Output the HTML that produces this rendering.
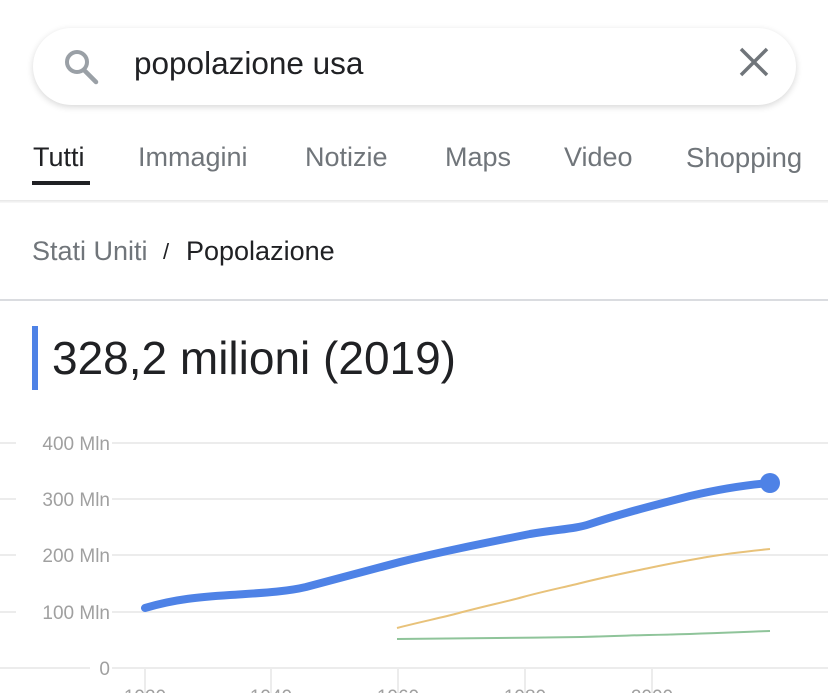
<!DOCTYPE html>
<html><head><meta charset="utf-8"><style>
body{margin:0;width:828px;height:693px;overflow:hidden;background:#fff;font-family:"Liberation Sans",sans-serif;position:relative}
.abs{position:absolute;white-space:nowrap}
</style></head><body>
<div class="abs" style="left:33px;top:28px;width:763px;height:77px;border-radius:39px;box-shadow:0 2px 7px rgba(0,0,0,0.16);background:#fff"></div>
<svg class="abs" style="left:60px;top:46px" width="40" height="40"><circle cx="17" cy="16" r="10" fill="none" stroke="#9aa0a6" stroke-width="4"/><line x1="24" y1="24" x2="36" y2="36" stroke="#9aa0a6" stroke-width="4.5" stroke-linecap="round"/></svg>
<div class="abs" style="left:134px;top:45px;font-size:31.5px;color:#202124">popolazione usa</div>
<svg class="abs" style="left:738px;top:46px" width="32" height="32"><path d="M3 3L29 29M29 3L3 29" stroke="#70757a" stroke-width="3.5"/></svg>
<div class="abs" style="left:33px;top:142px;font-size:27px;color:#202124">Tutti</div>
<div class="abs" style="left:32px;top:181px;width:58px;height:4px;background:#202124"></div>
<div class="abs" style="left:138px;top:142px;font-size:27px;color:#70757a">Immagini</div>
<div class="abs" style="left:305px;top:142px;font-size:27px;color:#70757a">Notizie</div>
<div class="abs" style="left:445px;top:142px;font-size:27px;color:#70757a">Maps</div>
<div class="abs" style="left:564px;top:142px;font-size:27px;color:#70757a">Video</div>
<div class="abs" style="left:686px;top:142px;font-size:27.5px;color:#70757a">Shopping</div>
<div class="abs" style="left:0;top:200px;width:828px;height:3px;background:linear-gradient(#e6e6e6,#fafafa)"></div>
<div class="abs" style="left:32px;top:236px;font-size:27px;color:#70757a">Stati Uniti</div>
<div class="abs" style="left:163px;top:239px;font-size:22px;color:#202124">/</div>
<div class="abs" style="left:186px;top:236px;font-size:27px;color:#202124">Popolazione</div>
<div class="abs" style="left:0;top:299px;width:828px;height:2px;background:#dadce0"></div>
<div class="abs" style="left:32px;top:326px;width:6px;height:64px;background:#4e82e6"></div>
<div class="abs" style="left:52px;top:331px;font-size:46px;color:#202124">328,2 milioni (2019)</div>
<svg class="abs" style="left:0;top:0" width="828" height="693">
<g stroke="#ececec" stroke-width="2">
<line x1="0" y1="443" x2="16" y2="443"/><line x1="112" y1="443" x2="828" y2="443"/>
<line x1="0" y1="499" x2="16" y2="499"/><line x1="112" y1="499" x2="828" y2="499"/>
<line x1="0" y1="555" x2="16" y2="555"/><line x1="112" y1="555" x2="828" y2="555"/>
<line x1="0" y1="612" x2="16" y2="612"/><line x1="112" y1="612" x2="828" y2="612"/>
<line x1="0" y1="668" x2="90" y2="668"/><line x1="112" y1="668" x2="828" y2="668"/>
<line x1="145" y1="668" x2="145" y2="693"/><line x1="271" y1="668" x2="271" y2="693"/><line x1="398" y1="668" x2="398" y2="693"/><line x1="525" y1="668" x2="525" y2="693"/><line x1="652" y1="668" x2="652" y2="693"/>
</g>
<g font-size="19" fill="#a0a0a0" font-family="Liberation Sans,sans-serif" text-anchor="end">
<text x="110" y="450">400 Mln</text><text x="110" y="506">300 Mln</text><text x="110" y="562">200 Mln</text><text x="110" y="619">100 Mln</text><text x="110" y="675">0</text>
</g>
<g font-size="19" fill="#a0a0a0" font-family="Liberation Sans,sans-serif" text-anchor="middle">
<text x="145" y="703">1920</text><text x="271" y="703">1940</text><text x="398" y="703">1960</text><text x="525" y="703">1980</text><text x="652" y="703">2000</text>
</g>
<path d="M397 628 C420 622 440 618 459 613 C485 606 505 602 523 597 C545 591 565 587 581 583 C605 577 625 573 649 568 C672 563 690 560 707 557 C730 553 750 551 770 549" fill="none" stroke="#e8c27a" stroke-width="2"/>
<path d="M397 639 C460 638 520 638 581 637 C620 636 640 635 649 635 C700 634 740 632 770 631" fill="none" stroke="#8fc49a" stroke-width="2"/>
<path d="M145 608 C175 599 200 597 230 595 C260 593 285 592 306 587 C340 578 370 570 400 562 C440 552 480 544 530 534 C560 529 575 529 590 524 C620 514 655 505 690 496 C720 489 745 485 770 483" fill="none" stroke="#4e82e6" stroke-width="8" stroke-linecap="round" stroke-linejoin="round"/>
<circle cx="770" cy="483" r="10" fill="#4e82e6"/>
</svg>
</body></html>
